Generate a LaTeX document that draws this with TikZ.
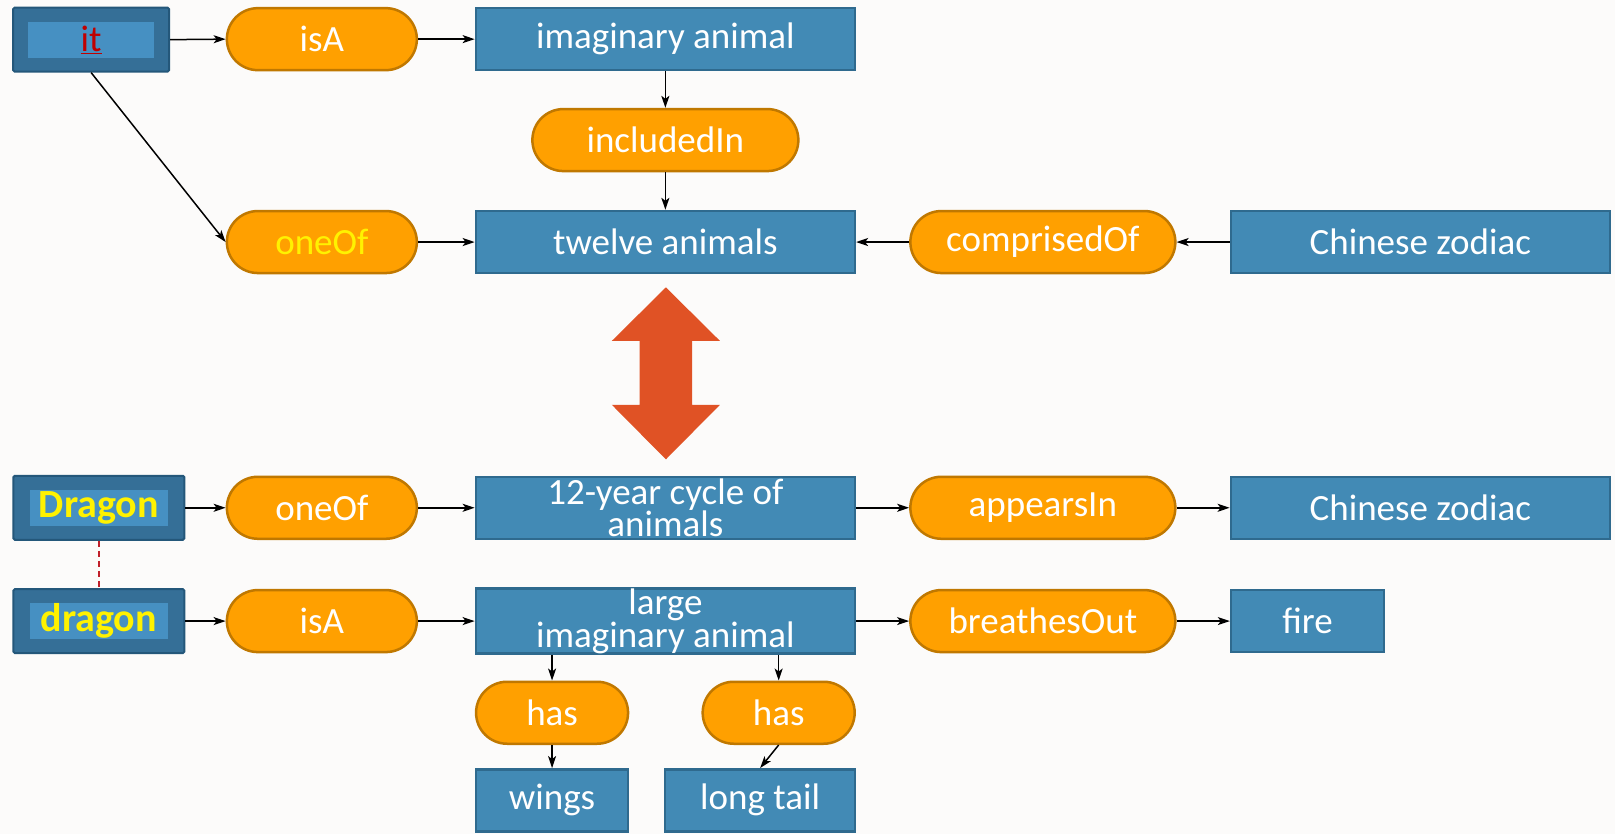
\documentclass[tikz,border=0pt]{standalone}
\usepackage{fontspec}
\setmainfont{Carlito}
\usetikzlibrary{arrows.meta}
\definecolor{bg}{HTML}{FCFBFA}
\definecolor{boxfill}{HTML}{428AB5}
\definecolor{boxline}{HTML}{2F6A8E}
\definecolor{pillfill}{HTML}{FFA000}
\definecolor{pillline}{HTML}{C07800}
\definecolor{outerfill}{HTML}{356F97}
\definecolor{outerline}{HTML}{24577A}
\definecolor{innerfill}{HTML}{4690C2}
\definecolor{bigarrow}{HTML}{E05225}
\definecolor{itred}{HTML}{C00000}
\definecolor{dashred}{HTML}{C0202A}
\begin{document}
\begin{tikzpicture}[x=1.03pt,y=-1.03pt,
  every node/.style={font=\fontsize{37}{30}\selectfont, text=white, inner sep=0pt, align=center},
  cbox/.style={rectangle, fill=boxfill, draw=boxline, line width=2.5pt, minimum width=379pt, minimum height=62pt},
  pill/.style={rectangle, rounded corners=31pt, fill=pillfill, draw=pillline, line width=2.5pt, minimum width=190pt, minimum height=62pt},
  outerbox/.style={rectangle, rounded corners=1.5pt, fill=outerfill, draw=outerline, line width=2pt, minimum height=64pt},
  innerbox/.style={rectangle, fill=innerfill, minimum height=36pt},
  bigname/.style={font=\fontsize{40}{40}\selectfont\bfseries, text=yellow},
  conn/.style={-{Stealth[length=12pt,width=8pt,inset=3pt]}, line width=1.5pt, black},
]
\fill[bg] (0,0) rectangle (1568,810);
\useasboundingbox (0,0) rectangle (1568,810);

% top graph
\node[outerbox, minimum width=156pt] (it) at (88.5,38.5) {};
\node[innerbox, minimum width=126pt] (itin) at (88.5,38.5) {\textcolor{itred}{\underline{it}}};
\node[pill] (isa1) at (312.5,38) {isA};
\node[cbox] (imag) at (646,38) {imaginary animal};
\node[pill, minimum width=266pt] (incl) at (646,136) {includedIn};
\node[pill] (oneof1) at (312.5,235) {\textcolor{yellow}{oneOf}};
\node[cbox] (twelve) at (646,235) {twelve animals};
\node[pill, minimum width=265pt] (comp) at (1012.5,235) {comprisedOf};
\node[cbox] (cz1) at (1379,235) {Chinese zodiac};

\draw[conn] (it.east) -- (isa1.west);
\draw[conn] (isa1.east) -- (imag.west);
\draw[conn] (imag.south) -- (incl.north);
\draw[conn] (incl.south) -- (twelve.north);
\draw[conn] (it.south) -- (oneof1.west);
\draw[conn] (oneof1.east) -- (twelve.west);
\draw[conn] (cz1.west) -- (comp.east);
\draw[conn] (comp.west) -- (twelve.east);

% big double arrow
\fill[bigarrow] (646.5,279) -- (699,331) -- (672,331) -- (672,393) -- (699,393) -- (646.5,446)
  -- (594,393) -- (621,393) -- (621,331) -- (594,331) -- cycle;

% bottom graph
\node[outerbox, minimum width=171pt] (Drag) at (96,493) {};
\node[innerbox, minimum width=138pt, bigname] (Dragin) at (96,493) {Dragon};
\node[pill] (oneof2) at (312.5,493) {oneOf};
\node[cbox] (cycle) at (646,493) {12-year cycle of\\animals};
\node[pill, minimum width=265pt] (appears) at (1012.5,493) {appearsIn};
\node[cbox] (cz2) at (1379,493) {Chinese zodiac};

\node[outerbox, minimum width=171pt] (drag) at (96,603) {};
\node[innerbox, minimum width=138pt, bigname] (dragin) at (96,603) {dragon};
\node[pill] (isa2) at (312.5,603) {isA};
\node[cbox] (large) at (646,603) {large\\imaginary animal};
\node[pill, minimum width=265pt] (breathes) at (1012.5,603) {breathesOut};
\node[cbox, minimum width=153pt] (fire) at (1269.5,603) {fire};

\node[pill, minimum width=152pt] (has1) at (536,692) {has};
\node[pill, minimum width=152pt] (has2) at (756,692) {has};
\node[cbox, minimum width=152pt] (wings) at (536,777) {wings};
\node[cbox, minimum width=190pt] (tail) at (738,777) {long tail};

\draw[dashred, dash pattern=on 6pt off 4pt, line width=1.4pt] (Drag.south) -- (drag.north);
\draw[conn] (Drag.east) -- (oneof2.west);
\draw[conn] (oneof2.east) -- (cycle.west);
\draw[conn] (cycle.east) -- (appears.west);
\draw[conn] (appears.east) -- (cz2.west);
\draw[conn] (drag.east) -- (isa2.west);
\draw[conn] (isa2.east) -- (large.west);
\draw[conn] (large.east) -- (breathes.west);
\draw[conn] (breathes.east) -- (fire.west);
\draw[conn] (large.south -| has1.north) -- (has1.north);
\draw[conn] (large.south -| has2.north) -- (has2.north);
\draw[conn] (has1.south) -- (wings.north);
\draw[conn] (has2.south) -- (tail.north);
\end{tikzpicture}
\end{document}
